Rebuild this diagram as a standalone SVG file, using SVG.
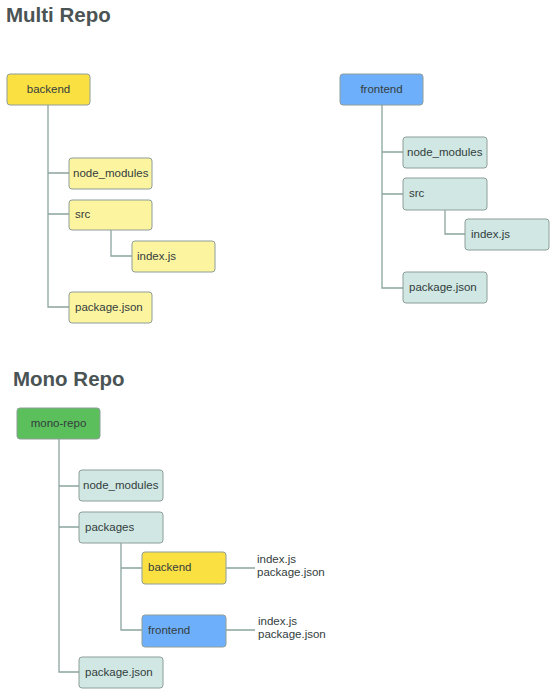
<svg xmlns="http://www.w3.org/2000/svg" width="556" height="695" viewBox="0 0 556 695">
<style>
.t{font-family:"Liberation Sans",Arial,sans-serif;font-weight:bold;font-size:20.5px;fill:#4b5454}
.l{font-family:"Liberation Sans",Arial,sans-serif;font-size:11.5px;fill:#333d3d}
.b{stroke:#8e9e9a;stroke-width:1}
.y{fill:#fbe042}
.ly{fill:#fdf4a0}
.bl{fill:#6eaffb}
.lt{fill:#d0e7e3}
.g{fill:#5bbf5c}
.c{fill:none;stroke:#8aa49f;stroke-width:1.3}
</style>
<rect width="556" height="695" fill="#ffffff"/>
<text class="t" x="6" y="22">Multi Repo</text>
<text class="t" x="13" y="386">Mono Repo</text>
<g id="connectors">
<path class="c" d="M48 105V307H69M48 173H69M48 214H69"/>
<path class="c" d="M111 230V256H132"/>
<path class="c" d="M382 105V288H403M382 152H403M382 194H403"/>
<path class="c" d="M445 210V234H465"/>
<path class="c" d="M59 439V672H79M59 486H79M59 527H79"/>
<path class="c" d="M121 543V630H142M121 568H142"/>
<path class="c" d="M226 568H255M226 630H255"/>
</g>
<g id="backend"><rect class="b y" x="7" y="74" width="83" height="31" rx="3"/><text class="l" x="48.5" y="93" text-anchor="middle">backend</text></g>
<g id="be_node_modules"><rect class="b ly" x="69" y="158" width="83" height="31" rx="3"/><text class="l" x="73" y="177">node_modules</text></g>
<g id="be_src"><rect class="b ly" x="69" y="200" width="83" height="30" rx="3"/><text class="l" x="75" y="218">src</text></g>
<g id="be_index"><rect class="b ly" x="132" y="241" width="83" height="31" rx="3"/><text class="l" x="137" y="260">index.js</text></g>
<g id="be_package"><rect class="b ly" x="69" y="292" width="83" height="31" rx="3"/><text class="l" x="75" y="311">package.json</text></g>
<g id="frontend"><rect class="b bl" x="340" y="74" width="83" height="31" rx="3"/><text class="l" x="381.5" y="93" text-anchor="middle">frontend</text></g>
<g id="fe_node_modules"><rect class="b lt" x="403" y="137" width="84" height="31" rx="3"/><text class="l" x="407" y="156">node_modules</text></g>
<g id="fe_src"><rect class="b lt" x="403" y="178" width="84" height="32" rx="3"/><text class="l" x="409" y="197">src</text></g>
<g id="fe_index"><rect class="b lt" x="465" y="219" width="84" height="31" rx="3"/><text class="l" x="471" y="238">index.js</text></g>
<g id="fe_package"><rect class="b lt" x="403" y="272" width="84" height="31" rx="3"/><text class="l" x="409" y="291">package.json</text></g>
<g id="mono-repo"><rect class="b g" x="17" y="408" width="83" height="31" rx="3"/><text class="l" x="58.5" y="427" text-anchor="middle">mono-repo</text></g>
<g id="mr_node_modules"><rect class="b lt" x="79" y="470" width="84" height="31" rx="3"/><text class="l" x="83" y="489">node_modules</text></g>
<g id="mr_packages"><rect class="b lt" x="79" y="512" width="84" height="31" rx="3"/><text class="l" x="85" y="531">packages</text></g>
<g id="mr_backend"><rect class="b y" x="142" y="552" width="84" height="32" rx="3"/><text class="l" x="148" y="571">backend</text></g>
<g id="mr_frontend"><rect class="b bl" x="142" y="615" width="84" height="32" rx="3"/><text class="l" x="148" y="634">frontend</text></g>
<g id="mr_package"><rect class="b lt" x="79" y="657" width="84" height="31" rx="3"/><text class="l" x="85" y="676">package.json</text></g>
<g id="mr_backend_files"><text class="l" x="257" y="563">index.js</text><text class="l" x="257" y="576">package.json</text></g>
<g id="mr_frontend_files"><text class="l" x="258" y="625">index.js</text><text class="l" x="258" y="638">package.json</text></g>
</svg>
